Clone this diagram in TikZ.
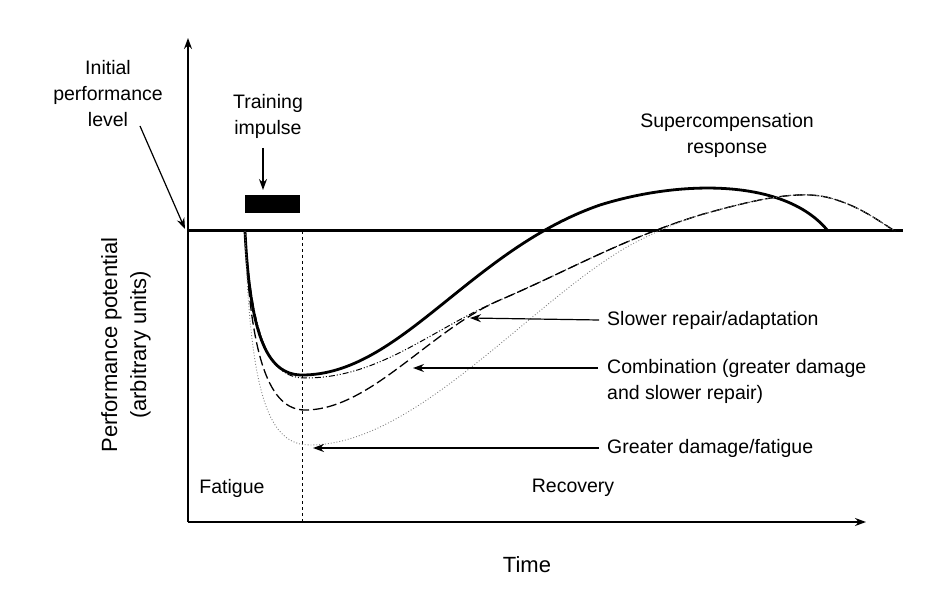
\documentclass[tikz,border=0pt]{standalone}
\usepackage{fontspec}
\setmainfont{Liberation Sans}
\usetikzlibrary{arrows.meta}
\begin{document}
\begin{tikzpicture}[x=1pt,y=-1pt,
  lbl/.style={font=\fontsize{19.5}{26}\selectfont,align=center,inner sep=0pt},
  lbll/.style={font=\fontsize{19.5}{26}\selectfont,align=left,anchor=west,inner sep=0pt},
  arr/.style={-{Stealth[length=11pt,width=8pt]},line width=1.2pt}]
\useasboundingbox (0,0) rectangle (941,593);
\coordinate (o) at (188,522);
\coordinate (ytop) at (188,38);
\coordinate (xend) at (866,522);
\draw[arr,line width=1.6pt] (o) -- (ytop);
\draw[arr,line width=1.6pt] (o) -- (xend);
\draw[line width=3pt] (188,231) -- (903,231);
\draw[dashed,line width=0.8pt] (302,231) -- (302,522);
\fill (245,195) rectangle (300,213);
% curves
\draw[line width=2.8pt] (245,231) .. controls (250,330) and (265,375) .. (302,375) .. controls (400,375) and (470,250) .. (600,205) .. controls (680,180) and (785,178) .. (828,231);
\draw[line width=1pt,dash pattern=on 6pt off 2pt on 1pt off 2pt on 1pt off 2pt] (245,231) .. controls (252,340) and (270,378) .. (305,378) .. controls (380,378) and (430,330) .. (500,300) .. controls (570,270) and (620,240) .. (700,215) .. controls (760,198) and (800,190) .. (830,198) .. controls (860,206) and (880,222) .. (895,231);
\draw[line width=1.3pt,dash pattern=on 10pt off 4pt] (245,231) .. controls (250,360) and (270,410) .. (305,410) .. controls (370,410) and (430,330) .. (500,300) .. controls (570,270) and (620,240) .. (700,215) .. controls (760,198) and (800,190) .. (830,198) .. controls (860,206) and (880,222) .. (895,231);
\draw[line width=0.9pt,dotted,gray] (245,231) .. controls (250,400) and (270,445) .. (310,445) .. controls (420,445) and (540,290) .. (640,240) .. controls (670,225) and (685,220) .. (700,215) .. controls (760,198) and (800,190) .. (830,198) .. controls (860,206) and (880,222) .. (895,231);
% texts
\node[lbl] (init) at (108,94) {Initial\\performance\\level};
\coordinate (initEnd) at (185,229);
\draw[arr] (140,126) -- (initEnd);
\node[lbl] (train) at (268,116) {Training\\impulse};
\coordinate (bar) at (263,190);
\draw[arr] (263,148) -- (bar);
\node[lbl] (super) at (727,135) {Supercompensation\\response};
\node[lbll] (slow) at (607,320) {Slower repair/adaptation};
\node[lbll] (comb) at (607,381) {Combination (greater damage\\and slower repair)};
\node[lbll] (great) at (607,448) {Greater damage/fatigue};
\coordinate (c1) at (470,318);
\coordinate (c2) at (413,368);
\coordinate (c3) at (313,448);
\draw[arr] (slow.west) ++(-8,0) -- (c1);
\draw[arr] (598,368) -- (c2);
\draw[arr] (great.west) ++(-8,0) -- (c3);
\node[lbl] (fat) at (232,488) {Fatigue};
\node[lbl] (rec) at (573,488) {Recovery};
\node[lbl,font=\fontsize{22}{26}\selectfont] (time) at (527,565) {Time};
\node[lbl,font=\fontsize{22}{29}\selectfont,rotate=90] (ylab) at (126,345) {Performance potential\\(arbitrary units)};
\end{tikzpicture}
\end{document}
